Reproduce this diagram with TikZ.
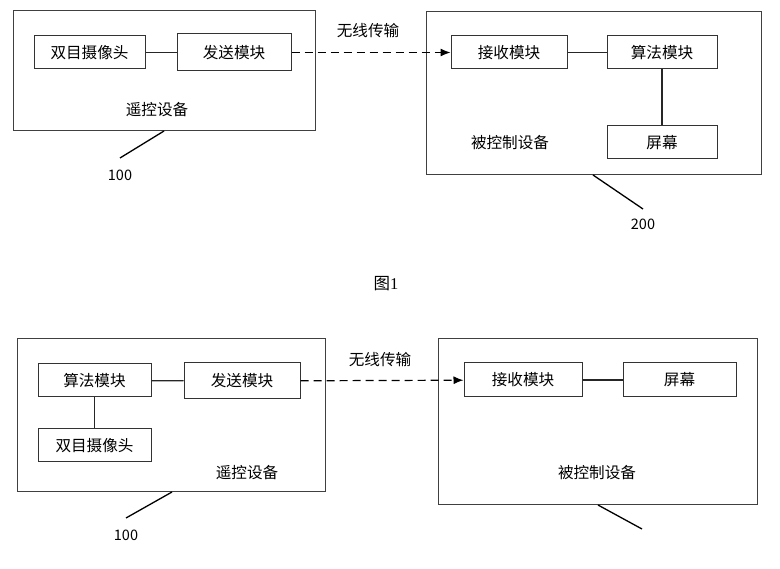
\documentclass[tikz,border=0pt]{standalone}
\usepackage{fontspec}
\setmainfont{Noto Sans CJK SC}
\newfontfamily\figfont{Liberation Serif}
\usetikzlibrary{arrows.meta}

\begin{document}
\begin{tikzpicture}[x=1pt,y=-1pt,
  box/.style={draw=black!80, line width=1pt, minimum width=#1, minimum height=33pt,
    inner sep=0pt, font=\fontsize{15.6}{17}\selectfont},
  frame/.style={draw=black!75, line width=1pt, inner sep=0pt},
  lbl/.style={font=\fontsize{15.6}{17}\selectfont, inner sep=0pt},
  num/.style={font=\fontsize{14.5}{16}\selectfont, inner sep=0pt},
  link/.style={line width=1.2pt, black!85},
  wireless/.style={line width=1.2pt, dash pattern=on 8pt off 5pt, -{Latex[length=10pt,width=8pt]}},
  leader/.style={line width=1.3pt}]
\useasboundingbox (0,0) rectangle (780,569);

% Fig 1: remote device
\node[frame, minimum width=302pt, minimum height=120pt] (rc1) at (164,71) {};
\node[box=111pt] (cam1) at (89.5,52.5) {双目摄像头};
\node[box=114pt, minimum height=37pt] (tx1) at (234,52.5) {发送模块};
\node[lbl] (rcname1) at (157,110) {遥控设备};

% Fig 1: controlled device
\node[frame, minimum width=335pt, minimum height=163pt] (ctl1) at (593.5,93.5) {};
\node[box=116pt] (rx1) at (509,52.5) {接收模块};
\node[box=110pt] (alg1) at (662,52.5) {算法模块};
\node[box=110pt] (scr1) at (662,142.5) {屏幕};
\node[lbl] (ctlname1) at (510,143) {被控制设备};

\draw[link] (cam1) -- (tx1);
\draw[link] (rx1) -- (alg1);
\draw[link] (alg1) -- (scr1);
\draw[wireless] (tx1) -- (rx1);
\node[lbl] (wl1) at (368,31) {无线传输};

% reference numbers
\coordinate (p1a) at (164,131);
\coordinate (p1b) at (120,158);
\draw[leader] (p1a) -- (p1b);
\node[num] (n1) at (120,175) {100};
\coordinate (p2a) at (593,175);
\coordinate (p2b) at (643,209);
\draw[leader] (p2a) -- (p2b);
\node[num] (n2) at (643,224) {200};

\node[font=\fontsize{16.5}{18}\selectfont, inner sep=0pt] (cap1) at (386,284) {图{\figfont 1}};

% Fig 2: remote device
\node[frame, minimum width=308pt, minimum height=153pt] (rc2) at (171,415.5) {};
\node[box=113pt] (alg2) at (94.5,380.5) {算法模块};
\node[box=116pt, minimum height=36pt] (tx2) at (242,381) {发送模块};
\node[box=113pt] (cam2) at (94.5,445.5) {双目摄像头};
\node[lbl] (rcname2) at (247,473) {遥控设备};

% Fig 2: controlled device
\node[frame, minimum width=319pt, minimum height=166pt] (ctl2) at (597.5,422) {};
\node[box=118pt, minimum height=34pt] (rx2) at (523,380) {接收模块};
\node[box=113pt, minimum height=34pt] (scr2) at (679.5,380) {屏幕};
\node[lbl] (ctlname2) at (597,473) {被控制设备};

\draw[link] (alg2) -- (tx2);
\draw[link] (alg2) -- (cam2);
\draw[link] (rx2) -- (scr2);
\draw[wireless] (tx2) -- (rx2);
\node[lbl] (wl2) at (380,360) {无线传输};

% reference numbers
\coordinate (p3a) at (172,492);
\coordinate (p3b) at (126,518);
\draw[leader] (p3a) -- (p3b);
\node[num] (n3) at (126,535) {100};
\coordinate (p4a) at (598,505);
\coordinate (p4b) at (642,529);
\draw[leader] (p4a) -- (p4b);

\end{tikzpicture}
\end{document}
